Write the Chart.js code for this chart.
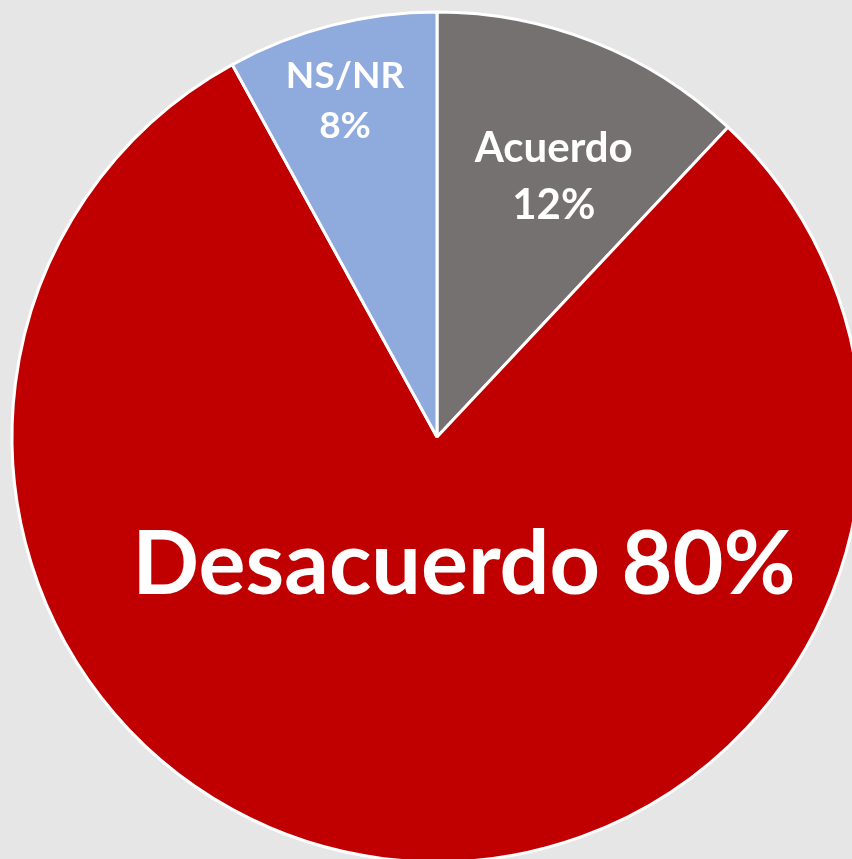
<!DOCTYPE html>
<html>
<head>
<meta charset="utf-8">
<script src="https://cdn.jsdelivr.net/npm/chart.js@4.4.1/dist/chart.umd.min.js"></script>
<style>
  html, body { margin: 0; padding: 0; overflow: hidden; width: 852px; height: 859px; background: #e6e6e6; }
  #wrap { position: absolute; left: 0; top: 0; width: 874px; height: 874px; }
</style>
</head>
<body>
<div id="wrap"><canvas id="pie" width="874" height="874"></canvas></div>
<script>
// datos
const categorias = ['Acuerdo', 'Desacuerdo', 'NS/NR'];
const porcentajes = [12, 80, 8];
const colores = ['#767171', '#C00000', '#8FAADC'];

// dónde va cada etiqueta (fracción del radio, giro en grados respecto al centro del sector)
const etiquetas = [
  { r: 0.67, giro: 2.6, size: 42, lineas: d => [categorias[0], d + '%'] },
  { r: 0.31, giro: -19, size: 88, lineas: d => [categorias[1] + ' ' + d + '%'] },
  { r: 0.82, giro: -0.9, size: 37, lineas: d => [categorias[2], d + '%'] }
];

const labelPlugin = {
  id: 'labelsPie',
  afterDatasetsDraw(chart) {
    const ctx = chart.ctx;
    const meta = chart.getDatasetMeta(0);
    meta.data.forEach((arc, i) => {
      const cfg = etiquetas[i];
      const p = arc.getProps(['x', 'y', 'startAngle', 'endAngle', 'outerRadius'], true);
      const mid = (p.startAngle + p.endAngle) / 2 + cfg.giro * Math.PI / 180;
      const cx = p.x + Math.cos(mid) * p.outerRadius * cfg.r;
      const cy = p.y + Math.sin(mid) * p.outerRadius * cfg.r;
      const lines = cfg.lineas(porcentajes[i]);
      const lh = cfg.size * 1.36;
      ctx.save();
      ctx.fillStyle = '#ffffff';
      ctx.font = 'bold ' + cfg.size + 'px Lato, "Open Sans", sans-serif';
      ctx.textAlign = 'center';
      ctx.textBaseline = 'middle';
      lines.forEach((t, k) => {
        ctx.fillText(t, cx, cy + (k - (lines.length - 1) / 2) * lh);
      });
      ctx.restore();
    });
  }
};

new Chart(document.getElementById('pie'), {
  type: 'pie',
  data: {
    labels: categorias,
    datasets: [{
      data: porcentajes,
      backgroundColor: colores,
      borderColor: '#ffffff',
      borderWidth: 3
    }]
  },
  options: {
    responsive: false,
    animation: false,
    radius: 425,
    layout: { padding: 0 },
    plugins: {
      legend: { display: false },
      tooltip: { enabled: false }
    }
  },
  plugins: [labelPlugin]
});
</script>
</body>
</html>
